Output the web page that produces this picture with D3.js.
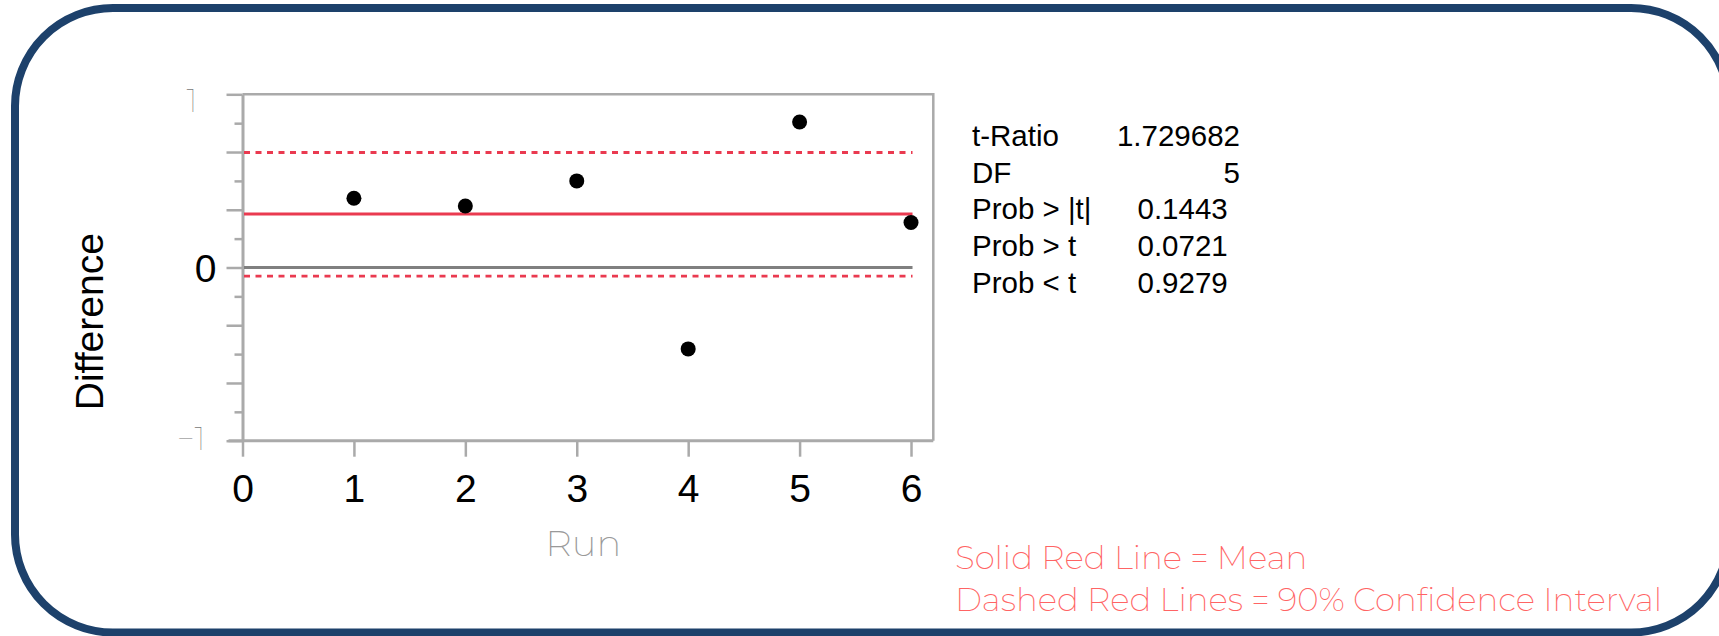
<!DOCTYPE html>
<html>
<head>
<meta charset="utf-8">
<script src="https://cdn.jsdelivr.net/npm/d3@7/dist/d3.min.js"></script>
<style>
  html, body { margin: 0; padding: 0; background: #ffffff; }
  svg { display: block; }
</style>
</head>
<body>
<svg id="chart" width="1719" height="636"></svg>
<script>
// ---- data ----
const runs = [1, 2, 3, 4, 5, 6];
const differences = [0.40, 0.355, 0.50, -0.47, 0.84, 0.26];
const meanValue = 0.309;
const ciLower = -0.050;
const ciUpper = 0.664;
const xTickValues = [0, 1, 2, 3, 4, 5, 6];
const yMajorTicks = [-1, -0.6667, -0.3333, 0, 0.3333, 0.6667, 1];
const yMinorTicks = [-0.8333, -0.5, -0.1667, 0.1667, 0.5, 0.8333];
const yLabeledTicks = [-1, 0, 1];
const statLabels = ["t-Ratio", "DF", "Prob > |t|", "Prob > t", "Prob < t"];
const statValues = ["1.729682", "5", "0.1443", "0.0721", "0.9279"];
const legendLines = ["Solid Red Line = Mean", "Dashed Red Lines = 90% Confidence Interval"];

// ---- layout ----
const svg = d3.select("#chart");
const thinFont = "Montserrat, 'Raleway', Roboto, 'Open Sans', sans-serif";
const mainFont = "'Liberation Sans', Arial, Helvetica, sans-serif";

// rounded frame (extends slightly past right edge, as in the reference)
svg.append("rect")
  .attr("x", 15).attr("y", 8)
  .attr("width", 1714).attr("height", 624.5)
  .attr("rx", 98).attr("ry", 98)
  .attr("fill", "#ffffff")
  .attr("stroke", "#1d416b")
  .attr("stroke-width", 8);

const plot = { left: 242.5, right: 933.3, top: 94.3, bottom: 440.7 };

const x = d3.scaleLinear().domain([0, 6.2]).range([plot.left, plot.right]);
const y = d3.scaleLinear().domain([-1, 1]).range([plot.bottom, plot.top]);

const axisColor = "#aaaaaa";

// top and right frame lines
svg.append("path")
  .attr("d", `M${plot.left},${plot.top}H${plot.right}V${plot.bottom}`)
  .attr("fill", "none")
  .attr("stroke", axisColor)
  .attr("stroke-width", 2.5);

// y axis: minor ticks
const yMinor = svg.append("g")
  .attr("transform", `translate(${plot.left},0)`)
  .call(d3.axisLeft(y).tickValues(yMinorTicks).tickSize(8).tickSizeOuter(0).tickFormat(""));
yMinor.select(".domain").remove();
yMinor.selectAll(".tick line").attr("stroke", axisColor).attr("stroke-width", 2.5);

// y axis: major ticks + labels
const yAxis = svg.append("g")
  .attr("transform", `translate(${plot.left},0)`)
  .call(d3.axisLeft(y).tickValues(yMajorTicks).tickSize(16).tickSizeOuter(0)
    .tickFormat(d => yLabeledTicks.indexOf(d) >= 0 ? d3.format("d")(d) : ""));
yAxis.select(".domain").attr("stroke", axisColor).attr("stroke-width", 3);
yAxis.selectAll(".tick line").attr("stroke", axisColor).attr("stroke-width", 2.5);
yAxis.selectAll(".tick text").each(function(d) {
  const t = d3.select(this);
  if (d === 0) {
    t.attr("font-family", mainFont).attr("font-size", 39).attr("fill", "#000")
     .attr("x", -26).attr("dy", "0.36em");
  } else if (d === 1) {
    t.attr("font-family", thinFont).attr("font-weight", 100).attr("font-size", 32)
     .attr("fill", "#777").attr("x", -45).attr("dy", "0.55em");
  } else {
    t.attr("font-family", thinFont).attr("font-weight", 100).attr("font-size", 32)
     .attr("fill", "#777").attr("x", -37).attr("dy", "0.28em");
  }
});

// x axis
const xAxis = svg.append("g")
  .attr("transform", `translate(0,${plot.bottom})`)
  .call(d3.axisBottom(x).tickValues(xTickValues).tickSize(16).tickSizeOuter(0).tickFormat(d3.format("d")));
xAxis.select(".domain").attr("stroke", axisColor).attr("stroke-width", 3)
  .attr("d", `M${plot.left - 14},0H${plot.right}`);
xAxis.selectAll(".tick line").attr("stroke", axisColor).attr("stroke-width", 2.5);
xAxis.selectAll(".tick text")
  .attr("font-family", mainFont).attr("font-size", 39).attr("fill", "#000")
  .attr("y", 34).attr("dy", "0.71em");

// reference lines (from x=0 to x=6)
const lineX0 = x(0) + 1.5, lineX1 = x(6) + 1.5;
svg.append("line")
  .attr("x1", lineX0).attr("x2", lineX1)
  .attr("y1", y(0)).attr("y2", y(0))
  .attr("stroke", "#808080").attr("stroke-width", 3);
svg.append("line")
  .attr("x1", lineX0).attr("x2", lineX1)
  .attr("y1", y(meanValue)).attr("y2", y(meanValue))
  .attr("stroke", "#ea3a50").attr("stroke-width", 2.8);
[ciUpper, ciLower].forEach(v => {
  svg.append("line")
    .attr("x1", lineX0).attr("x2", lineX1)
    .attr("y1", y(v)).attr("y2", y(v))
    .attr("stroke", "#ea3a50").attr("stroke-width", 2.8)
    .attr("stroke-dasharray", "6,5.5");
});

// points
svg.append("g").selectAll("circle")
  .data(runs.map((r, i) => ({ r, v: differences[i] })))
  .join("circle")
  .attr("cx", d => x(d.r))
  .attr("cy", d => y(d.v))
  .attr("r", 7.5)
  .attr("fill", "#000");

// axis titles
svg.append("text")
  .attr("transform", "translate(103,321.7) rotate(-90)")
  .attr("text-anchor", "middle")
  .attr("font-family", mainFont).attr("font-size", 39).attr("fill", "#000")
  .text("Difference");

svg.append("text")
  .attr("x", 583.3).attr("y", 556)
  .attr("text-anchor", "middle")
  .attr("font-family", thinFont).attr("font-weight", 200).attr("font-size", 37)
  .attr("fill", "#999")
  .text("Run");

// stats table
const statBaselines = [145.7, 182.7, 219.3, 256, 292.7];
const stats = svg.append("g");
statLabels.forEach((lab, i) => {
  stats.append("text")
    .attr("x", 972).attr("y", statBaselines[i])
    .attr("font-family", mainFont).attr("font-size", 29.5).attr("fill", "#000")
    .text(lab);
  const isProb = i >= 2;
  stats.append("text")
    .attr("x", isProb ? 1137.5 : 1240).attr("y", statBaselines[i])
    .attr("text-anchor", isProb ? "start" : "end")
    .attr("font-family", mainFont).attr("font-size", 29.5).attr("fill", "#000")
    .text(statValues[i]);
});

// legend notes
const legendBaselines = [569.3, 610.7];
legendLines.forEach((txt, i) => {
  svg.append("text")
    .attr("x", 955).attr("y", legendBaselines[i])
    .attr("font-family", thinFont).attr("font-weight", 200).attr("font-size", 32.5)
    .attr("fill", "#ff6464")
    .text(txt);
});
</script>
</body>
</html>
